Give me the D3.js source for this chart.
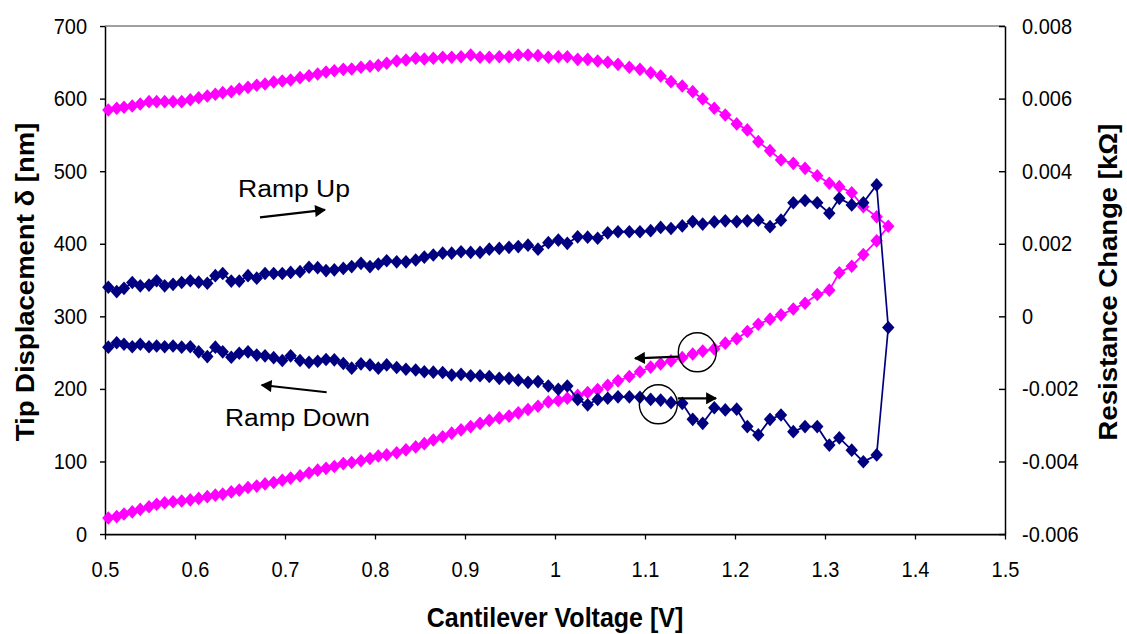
<!DOCTYPE html>
<html>
<head>
<meta charset="utf-8">
<script src="https://cdn.jsdelivr.net/npm/d3@7"></script>
<style>
  body { margin: 0; background: #fff; }
  svg text { font-family: "Liberation Sans", Arial, sans-serif; fill: #000; }
</style>
</head>
<body>
<script>
// cantilever voltage of each step of the ramp (V), ramp down uses the same steps backwards
const voltage = [
  0.5037, 0.5130, 0.5211, 0.5303, 0.5392, 0.5489, 0.5574, 0.5663, 0.5756, 0.5852,
  0.5948, 0.6041, 0.6137, 0.6226, 0.6308, 0.6403, 0.6492, 0.6589, 0.6686, 0.6778,
  0.6874, 0.6970, 0.7063, 0.7167, 0.7267, 0.7363, 0.7456, 0.7548, 0.7648, 0.7741,
  0.7844, 0.7944, 0.8037, 0.8130, 0.8241, 0.8344, 0.8452, 0.8548, 0.8648, 0.8752,
  0.8852, 0.8956, 0.9063, 0.9167, 0.9270, 0.9381, 0.9489, 0.9592, 0.9700, 0.9811,
  0.9926, 1.0037, 1.0137, 1.0252, 1.0363, 1.0474, 1.0586, 1.0700, 1.0826, 1.0944,
  1.1063, 1.1174, 1.1289, 1.1414, 1.1530, 1.1641, 1.1770, 1.1892, 1.2019, 1.2137,
  1.2259, 1.2389, 1.2511, 1.2648, 1.2778, 1.2914, 1.3048, 1.3159, 1.3297, 1.3426,
  1.3574, 1.3703
];

// tip displacement (nm), ramp up - one per voltage step
const dispUp = [
  22, 24, 27.5, 30.5, 34, 37.5, 41, 43, 44.5, 45.5,
  47, 49, 51.5, 53.5, 55, 58, 60.5, 64, 66, 69,
  71, 74, 77, 80, 84, 88, 90.5, 93, 97, 98.5,
  101, 104, 107.5, 109, 112, 116, 120, 124.5, 129.5, 134,
  139, 143.5, 148, 152.5, 156.5, 160, 162.5, 167, 171.5, 176,
  182, 184, 187, 191, 195, 199, 205, 211, 217, 223.5,
  230, 234.5, 238.5, 243, 248, 252, 255, 263, 269, 279,
  289, 296, 302, 310, 318, 330, 336, 360, 369, 385,
  404, 424
];

// tip displacement (nm), ramp down - listed at voltage[0..80]
const dispDown = [
  584.3, 586.6, 588.0, 589.8, 592.5, 595.7, 595.7, 595.7, 595.7, 595.7,
  598.4, 601.2, 603.5, 605.9, 608.1, 609.5, 613.2, 615.5, 618.3, 620.1,
  622.8, 624.2, 625.6, 628.8, 631.5, 633.9, 636.6, 638.4, 640.3, 640.8,
  643.1, 644.5, 645.8, 648.6, 651.8, 653.1, 655.5, 654.5, 655.5, 656.9,
  656.9, 657.7, 660.0, 656.9, 656.9, 657.7, 657.7, 660.0, 660.0, 659.1,
  656.9, 657.7, 657.7, 654.1, 654.1, 651.8, 650.0, 647.2, 643.1, 640.3,
  635.6, 631.1, 623.3, 617.3, 609.5, 599.4, 586.6, 577.4, 565.1, 556.8,
  540.6, 528.2, 515.4, 510.8, 503.9, 493.7, 483.3, 478.6, 470.3, 451.0,
  437.2
];

// resistance change (kOhm), ramp up
const resUp = [
  0.00080, 0.00068, 0.00077, 0.00093, 0.00084, 0.00086, 0.00098, 0.00084, 0.00088, 0.00093,
  0.00098, 0.00094, 0.00091, 0.00112, 0.00118, 0.00097, 0.00097, 0.00112, 0.00105, 0.00118,
  0.00118, 0.00118, 0.00121, 0.00123, 0.00135, 0.00134, 0.00126, 0.00128, 0.00132, 0.00137,
  0.00146, 0.00137, 0.00144, 0.00153, 0.00150, 0.00150, 0.00155, 0.00163, 0.00169, 0.00174,
  0.00174, 0.00178, 0.00176, 0.00176, 0.00185, 0.00187, 0.00190, 0.00192, 0.00196, 0.00185,
  0.00203, 0.00210, 0.00201, 0.00219, 0.00218, 0.00215, 0.00230, 0.00233, 0.00233, 0.00233,
  0.00236, 0.00245, 0.00242, 0.00249, 0.00261, 0.00254, 0.00260, 0.00263, 0.00261, 0.00263,
  0.00265, 0.00247, 0.00265, 0.00313, 0.00319, 0.00313, 0.00284, 0.00325, 0.00307, 0.00313,
  0.00362, -0.00031
];

// resistance change (kOhm), ramp down - listed at voltage[0..80]
const resDown = [
  -0.00085, -0.00073, -0.00077, -0.00084, -0.00077, -0.00084, -0.00082, -0.00084, -0.00082, -0.00085,
  -0.00084, -0.00098, -0.00111, -0.00085, -0.00098, -0.00113, -0.00102, -0.00098, -0.00107, -0.00109,
  -0.00114, -0.00122, -0.00109, -0.00122, -0.00127, -0.00124, -0.00119, -0.00120, -0.00130, -0.00143,
  -0.00131, -0.00134, -0.00143, -0.00134, -0.00141, -0.00146, -0.00148, -0.00153, -0.00154, -0.00155,
  -0.00162, -0.00160, -0.00164, -0.00164, -0.00166, -0.00171, -0.00171, -0.00176, -0.00182, -0.00180,
  -0.00192, -0.00201, -0.00192, -0.00229, -0.00244, -0.00229, -0.00226, -0.00222, -0.00222, -0.00223,
  -0.00229, -0.00231, -0.00238, -0.00240, -0.00284, -0.00295, -0.00252, -0.00258, -0.00256, -0.00304,
  -0.00327, -0.00284, -0.00272, -0.00318, -0.00304, -0.00304, -0.00355, -0.00335, -0.00369, -0.00401,
  -0.00382
];

const xTicks = [0.5, 0.6, 0.7, 0.8, 0.9, 1, 1.1, 1.2, 1.3, 1.4, 1.5];
const xTickLabels = ["0.5", "0.6", "0.7", "0.8", "0.9", "1", "1.1", "1.2", "1.3", "1.4", "1.5"];
const leftTicks = [0, 100, 200, 300, 400, 500, 600, 700];
const rightTicks = [-0.006, -0.004, -0.002, 0, 0.002, 0.004, 0.006, 0.008];
const rightTickLabels = ["-0.006", "-0.004", "-0.002", "0", "0.002", "0.004", "0.006", "0.008"];

// the picture is a bit taller than wide text would give, so draw in squeezed units and stretch
const W = 1127, H = 634, SY = 1.1, IH = H / SY;
const plot = { left: 105, right: 1005, top: 26 / SY, bottom: 534 / SY };

const svg = d3.select("body").append("svg")
  .attr("width", W).attr("height", H)
  .attr("viewBox", `0 0 ${W} ${IH}`)
  .attr("preserveAspectRatio", "none");

const x = d3.scaleLinear().domain([0.5, 1.5]).range([plot.left, plot.right]);
const yL = d3.scaleLinear().domain([0, 700]).range([plot.bottom, plot.top]);
const yR = d3.scaleLinear().domain([-0.006, 0.008]).range([plot.bottom, plot.top]);

// arrow head
svg.append("defs").append("marker")
  .attr("id", "arrow")
  .attr("viewBox", "0 0 10 10")
  .attr("refX", 9).attr("refY", 5)
  .attr("markerWidth", 14).attr("markerHeight", 11)
  .attr("markerUnits", "userSpaceOnUse")
  .attr("orient", "auto")
  .append("path").attr("d", "M0,0L10,5L0,10Z").attr("fill", "#000");

// top frame line
svg.append("line")
  .attr("x1", plot.left).attr("x2", plot.right)
  .attr("y1", plot.top).attr("y2", plot.top)
  .attr("stroke", "#808080").attr("stroke-width", 1.5);

// axes
function styleAxis(g) {
  g.attr("font-size", null).attr("font-family", null);
  g.select(".domain").attr("stroke", "#000").attr("stroke-width", 1.5);
  g.selectAll(".tick line").attr("stroke", "#000").attr("stroke-width", 1.3);
  g.selectAll(".tick text").attr("font-size", 20).attr("fill", "#000");
}

svg.append("g")
  .attr("transform", `translate(0,${plot.bottom})`)
  .call(d3.axisBottom(x).tickValues(xTicks).tickFormat((d, i) => xTickLabels[i])
    .tickSizeInner(5).tickSizeOuter(0).tickPadding(20))
  .call(styleAxis);

svg.append("g")
  .attr("transform", `translate(${plot.left},0)`)
  .call(d3.axisLeft(yL).tickValues(leftTicks).tickFormat(d3.format("d"))
    .tickSizeInner(5).tickSizeOuter(0).tickPadding(13))
  .call(styleAxis);

svg.append("g")
  .attr("transform", `translate(${plot.right},0)`)
  .call(d3.axisRight(yR).tickValues(rightTicks).tickFormat((d, i) => rightTickLabels[i])
    .tickSizeInner(-6).tickSizeOuter(0).tickPadding(17))
  .call(styleAxis);

// axis titles
svg.append("text")
  .attr("transform", `translate(34,${282 / SY}) rotate(-90)`)
  .attr("text-anchor", "middle").attr("font-size", 25).attr("font-weight", "bold")
  .text("Tip Displacement δ [nm]");

svg.append("text")
  .attr("transform", `translate(1117,${282 / SY}) rotate(-90)`)
  .attr("text-anchor", "middle").attr("font-size", 25).attr("font-weight", "bold")
  .text("Resistance Change [kΩ]");

svg.append("text")
  .attr("x", (plot.left + plot.right) / 2).attr("y", 627 / SY)
  .attr("text-anchor", "middle").attr("font-size", 25).attr("font-weight", "bold")
  .text("Cantilever Voltage [V]");

// build loops: up the ramp, then back down
const n = dispDown.length;
const pinkLoop = voltage.map((v, i) => ({ v: v, val: dispUp[i] }))
  .concat(d3.range(n - 1, -1, -1).map(i => ({ v: voltage[i], val: dispDown[i] })));
const blueLoop = voltage.map((v, i) => ({ v: v, val: resUp[i] }))
  .concat(d3.range(n - 1, -1, -1).map(i => ({ v: voltage[i], val: resDown[i] })));

const diamond = "M0,-6.2L6.2,0L0,6.2L-6.2,0Z";

function drawSeries(data, yScale, color) {
  const line = d3.line().x(d => x(d.v)).y(d => yScale(d.val));
  svg.append("path").datum(data)
    .attr("d", line)
    .attr("fill", "none").attr("stroke", color).attr("stroke-width", 1.7);
  svg.append("g").selectAll("path")
    .data(data).enter().append("path")
    .attr("d", diamond)
    .attr("transform", d => `translate(${x(d.v)},${yScale(d.val)})`)
    .attr("fill", color);
}

drawSeries(pinkLoop, yL, "#FF00FF");
drawSeries(blueLoop, yR, "#000080");

// annotations
const note = svg.append("g");

note.append("text")
  .attr("x", x(0.6478)).attr("y", yL(464.8))
  .attr("font-size", 22).attr("textLength", 112).attr("lengthAdjust", "spacingAndGlyphs")
  .text("Ramp Up");

note.append("text")
  .attr("x", x(0.6333)).attr("y", yL(148.8))
  .attr("font-size", 22).attr("textLength", 145).attr("lengthAdjust", "spacingAndGlyphs")
  .text("Ramp Down");

function arrow(v1, l1, v2, l2) {
  note.append("line")
    .attr("x1", x(v1)).attr("y1", yL(l1))
    .attr("x2", x(v2)).attr("y2", yL(l2))
    .attr("stroke", "#000").attr("stroke-width", 2)
    .attr("marker-end", "url(#arrow)");
}

arrow(0.6722, 436.4, 0.7444, 446.5);   // ramp up
arrow(0.7463, 195.3, 0.6741, 205.3);   // ramp down
arrow(1.1370, 244.3, 1.0889, 242.1);   // pink -> left axis
arrow(1.1363, 187.0, 1.1789, 187.0);   // blue -> right axis

function ring(v, l) {
  note.append("ellipse")
    .attr("cx", x(v)).attr("cy", yL(l))
    .attr("rx", 19).attr("ry", 19.5 / SY)
    .attr("fill", "none").attr("stroke", "#000").attr("stroke-width", 1.4);
}

ring(1.1581, 250.4);
ring(1.1148, 178.7);
</script>
</body>
</html>
